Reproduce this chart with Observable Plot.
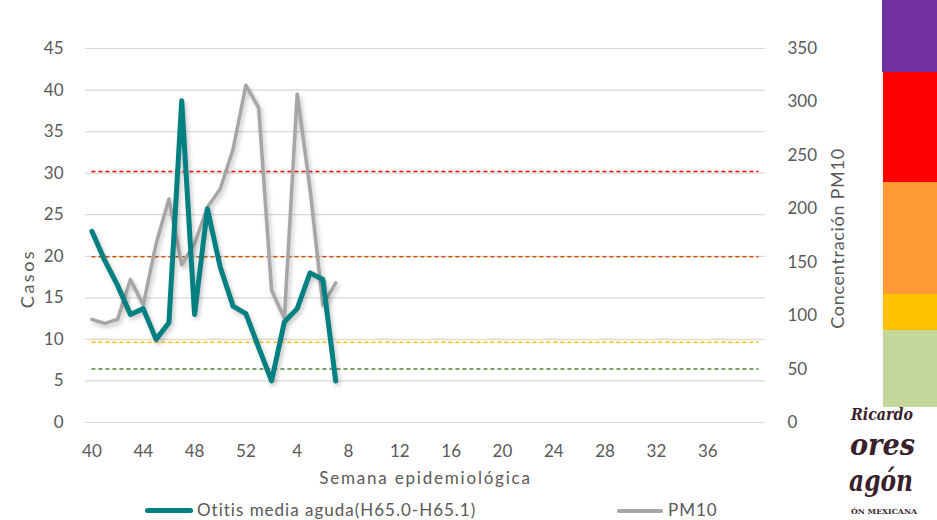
<!DOCTYPE html>
<html>
<head>
<meta charset="utf-8">
<script src="https://cdn.jsdelivr.net/npm/d3@7"></script>
<script src="https://cdn.jsdelivr.net/npm/@observablehq/plot@0.6"></script>
<style>
  html, body { margin: 0; padding: 0; background: #fff; }
  #wrap { position: relative; width: 937px; height: 520px; overflow: hidden; font-family: Lato, "Open Sans", sans-serif; }
  #legend { position: relative; height: 20px; color: #595959; font-size: 17px; letter-spacing: 1px; }
  .sw { position: absolute; height: 5px; border-radius: 3px; }
  .lt { position: absolute; white-space: nowrap; line-height: 20px; top: 0; }
  #bar { position: absolute; right: 0; top: 0; width: 55px; }
  #logo { position: absolute; left: 846px; top: 400px; }
  #chart g[aria-label="line"] { filter: drop-shadow(2px 3px 2px rgba(0,0,0,0.22)); }
</style>
</head>
<body>
<div id="wrap">
  <div id="chart"></div>
  <div id="legend"></div>
  <div id="bar"></div>
  <svg id="logo" width="91" height="120"></svg>
</div>
<script>
// Epidemiological weeks (2019 wk 40 .. 2020 wk 40)
const weeks = [40,41,42,43,44,45,46,47,48,49,50,51,52,1,2,3,4,5,6,7,8,9,10,11,12,13,14,15,16,17,18,19,20,21,22,23,24,25,26,27,28,29,30,31,32,33,34,35,36,37,38,39,40];
// Otitis media aguda (H65.0-H65.1), cases
const otitis = [23,19.5,16.5,13,13.7,10,12,38.7,13,25.7,18.7,14,13.1,9,5,12.1,13.7,18,17.2,5];
// PM10 concentration
const pm10 = [96.5,92.8,96.5,133.8,109.9,167.3,209.2,147.7,167.3,201.4,218.5,255.7,315.6,294.5,123.8,97.5,307.5,218.5,109.9,130.6];
// PM10 index thresholds and their colours
const thresholds = [50,75,155,235];
const thresholdColors = ["#548235","#ffc000","#c55a11","#ff0000"];
// Axis ticks
const leftTicks = [0,5,10,15,20,25,30,35,40,45];
const rightTicks = [0,50,100,150,200,250,300,350];
const xTickIdx = [0,4,8,12,16,20,24,28,32,36,40,44,48];
// Series names
const seriesNames = ["Otitis media aguda(H65.0-H65.1)", "PM10"];
const seriesColors = ["#008080", "#a6a6a6"];
// Decorative side scale colours
const barColors = ["#7030a0","#ff0000","#ff9933","#ffc000","#c4d79b"];
// Logo words
const logoWords = ["Ricardo", "ores", "agón", "ÓN MEXICANA"];

const leftMax = 45, rightMax = 350, k = leftMax / rightMax;
const grey = "#595959";

const otData = otitis.map((v, i) => ({i, v}));
const pmData = pm10.map((v, i) => ({i, v: v * k}));

const chart = Plot.plot({
  width: 937,
  height: 500,
  marginLeft: 85,
  marginRight: 172,
  marginTop: 48,
  marginBottom: 78,
  style: {fontFamily: "Lato, 'Open Sans', sans-serif", fontSize: "17px", color: grey, background: "#fff"},
  x: {type: "linear", domain: [-0.5, weeks.length - 0.5]},
  y: {domain: [0, leftMax]},
  marks: [
    Plot.gridY(leftTicks, {stroke: "#d9d9d9", strokeOpacity: 1, strokeWidth: 1.2}),
    Plot.ruleY(thresholds, {
      y: d => d * k, x1: 0, x2: weeks.length - 1,
      stroke: (d, j) => thresholdColors[j], strokeWidth: 1.5, strokeDasharray: "4,3"
    }),
    Plot.line(pmData, {x: "i", y: "v", stroke: seriesColors[1], strokeWidth: 3.5, strokeLinejoin: "round", curve: "linear"}),
    Plot.line(otData, {x: "i", y: "v", stroke: seriesColors[0], strokeWidth: 5, strokeLinejoin: "round", curve: "linear"}),
    Plot.axisY(leftTicks, {anchor: "left", tickSize: 0, tickPadding: 22, label: null, fill: grey, fontSize: 17}),
    Plot.axisY(rightTicks.map(v => v * k), {anchor: "right", tickSize: 0, tickPadding: 22, label: null, fill: grey, fontSize: 17,
      tickFormat: d => String(Math.round(d / k))}),
    Plot.axisX(xTickIdx, {anchor: "bottom", tickSize: 0, tickPadding: 22, label: null, fill: grey, fontSize: 17,
      tickFormat: i => String(weeks[i])}),
    Plot.text(["Casos"], {frameAnchor: "left", textAnchor: "middle", rotate: -90, dx: -57, dy: 43, fill: grey, fontSize: 18}),
    Plot.text(["Concentración PM10"], {frameAnchor: "right", textAnchor: "middle", rotate: -90, dx: 73, dy: 3, fill: grey, fontSize: 18}),
    Plot.text(["Semana epidemiológica"], {frameAnchor: "bottom", textAnchor: "middle", dy: 61, fill: grey, fontSize: 17})
  ]
});
// letter spacing of the axis titles
const spacing = {"Casos": "2.5px", "Concentración PM10": "0.7px", "Semana epidemiológica": "1.8px"};
d3.select(chart).selectAll("text").each(function () {
  const s = spacing[this.textContent];
  if (s) this.setAttribute("letter-spacing", s);
});
document.getElementById("chart").appendChild(chart);

// Legend
const legend = document.getElementById("legend");
const legendPos = [{sw: 145, sww: 48, tx: 197}, {sw: 617, sww: 46, tx: 668}];
seriesNames.forEach((name, j) => {
  const s = document.createElement("div");
  s.className = "sw";
  s.style.left = legendPos[j].sw + "px";
  s.style.width = legendPos[j].sww + "px";
  s.style.top = (j === 0 ? 8 : 8.5) + "px";
  s.style.height = (j === 0 ? 5 : 4) + "px";
  s.style.background = seriesColors[j];
  legend.appendChild(s);
  const t = document.createElement("div");
  t.className = "lt";
  t.style.left = legendPos[j].tx + "px";
  t.textContent = name;
  legend.appendChild(t);
});

// Decorative side colour scale
const barHeights = [72, 110, 112, 36, 77];
const bar = document.getElementById("bar");
barColors.forEach((c, j) => {
  const d = document.createElement("div");
  d.style.height = barHeights[j] + "px";
  d.style.background = c;
  d.style.marginLeft = j === 0 ? "0px" : "1px";
  bar.appendChild(d);
});

// Logo text
const NS = "http://www.w3.org/2000/svg";
const logo = document.getElementById("logo");
const logoLayout = [
  {x: 5, y: 20, size: 16, italic: true, len: 62},
  {x: 4, y: 55, size: 29, italic: true, len: 65},
  {x: 3, y: 91, size: 29, italic: true, len: 64},
  {x: 5, y: 114, size: 7, italic: false, len: 66}
];
logoWords.forEach((w, j) => {
  const L = logoLayout[j];
  const t = document.createElementNS(NS, "text");
  t.setAttribute("fill", "#3b1f2c");
  t.setAttribute("font-family", "DejaVu Serif, serif");
  t.setAttribute("font-weight", "bold");
  t.setAttribute("x", L.x);
  t.setAttribute("y", L.y);
  t.setAttribute("font-size", L.size);
  if (L.italic) t.setAttribute("font-style", "italic");
  t.setAttribute("textLength", L.len);
  t.setAttribute("lengthAdjust", "spacingAndGlyphs");
  t.textContent = w;
  logo.appendChild(t);
});
</script>
</body>
</html>
